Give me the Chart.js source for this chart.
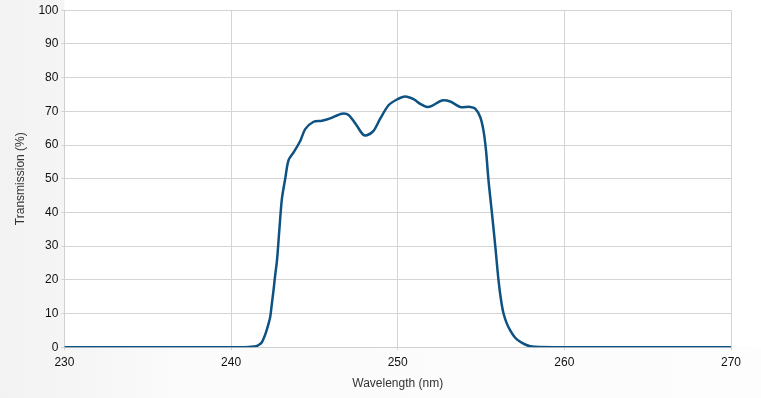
<!DOCTYPE html>
<html>
<head>
<meta charset="utf-8">
<script src="https://cdn.jsdelivr.net/npm/chart.js@4/dist/chart.umd.min.js"></script>
<style>
  html, body { margin: 0; padding: 0; background: #fff; }
  #wrap { width: 761px; height: 398px; }
</style>
</head>
<body>
<div id="wrap"><canvas id="specChart" width="761" height="398"></canvas></div>
<script>
// Transmission spectrum
const wavelengths = [230, 235, 240, 240.8, 241.2, 241.5, 241.7, 241.85, 241.95, 242.1, 242.25, 242.35, 242.45, 242.55, 242.65, 242.76, 242.9, 243.05, 243.25, 243.45, 243.75, 244.15, 244.45, 244.95, 245.45, 245.95, 246.65, 247.05, 247.55, 247.9, 248.15, 248.55, 248.95, 249.45, 249.95, 250.45, 250.95, 251.35, 251.75, 252.05, 252.65, 253.15, 253.75, 254.35, 254.65, 254.95, 255.15, 255.3, 255.45, 255.65, 255.85, 256.05, 256.2, 256.35, 256.55, 256.75, 257.05, 257.35, 257.65, 257.95, 258.5, 260, 265, 270];
const transmission = [0, 0, 0, 0.02, 0.1, 0.3, 0.8, 1.5, 2.5, 4.5, 7, 9, 13, 17, 21.5, 26, 35, 44, 50, 55.5, 57.8, 61.2, 64.7, 66.9, 67.2, 67.9, 69.3, 68.9, 65.7, 63.2, 62.9, 64.2, 67.8, 71.8, 73.5, 74.4, 73.6, 72.2, 71.3, 71.6, 73.2, 72.9, 71.3, 71.3, 70.8, 68.3, 64.2, 58.3, 49.4, 40, 30.2, 19.8, 14, 10, 7, 5, 2.8, 1.6, 0.8, 0.3, 0.05, 0, 0, 0];
const xTicks = [230, 240, 250, 260, 270];
const yTicks = [0, 10, 20, 30, 40, 50, 60, 70, 80, 90, 100];

// page background: grey fade outside plot, white inside
const bgPlugin = {
    id: 'bg',
    beforeDraw(chart) {
        const ctx = chart.ctx;
        const a = chart.chartArea;
        ctx.save();
        let g = ctx.createLinearGradient(0, 0, chart.width, 0);
        g.addColorStop(0, '#f2f2f2');
        g.addColorStop(0.25, '#fbfbfb');
        g.addColorStop(1, '#fdfdfd');
        ctx.fillStyle = g;
        ctx.fillRect(0, 0, chart.width, chart.height);
        ctx.fillStyle = '#ffffff';
        ctx.fillRect(a.left, 0, chart.width - a.left, a.bottom);
        ctx.restore();
    }
};

const points = wavelengths.map((w, i) => ({ x: w, y: transmission[i] }));

new Chart(document.getElementById('specChart').getContext('2d'), {
    type: 'line',
    data: {
        datasets: [{
            label: 'Transmission',
            data: points,
            borderColor: '#0d5283',
            borderWidth: 2.5,
            pointRadius: 0,
            fill: false,
            tension: 0.3
        }]
    },
    options: {
        responsive: false,
        animation: false,
        layout: { padding: { top: 2, right: 30, left: 13, bottom: 7 } },
        plugins: {
            legend: { display: false },
            tooltip: { enabled: false }
        },
        scales: {
            x: {
                type: 'linear',
                min: 230,
                max: 270,
                afterBuildTicks(axis) { axis.ticks = xTicks.map(v => ({ value: v })); },
                grid: { color: '#d4d4d4', tickLength: 3 },
                border: { color: '#d0d0d0' },
                ticks: { color: '#111', font: { family: 'Liberation Sans, Arial', size: 12 }, padding: 5 },
                title: {
                    display: true,
                    text: 'Wavelength (nm)',
                    color: '#333',
                    font: { family: 'Liberation Sans, Arial', size: 12 },
                    padding: { top: 2, bottom: 0 }
                }
            },
            y: {
                min: 0,
                max: 100,
                afterBuildTicks(axis) { axis.ticks = yTicks.map(v => ({ value: v })); },
                grid: { color: '#d4d4d4', tickLength: 3 },
                border: { color: '#d0d0d0' },
                ticks: { color: '#111', font: { family: 'Liberation Sans, Arial', size: 12 }, padding: 3 },
                title: {
                    display: true,
                    text: 'Transmission (%)',
                    color: '#333',
                    font: { family: 'Liberation Sans, Arial', size: 12 },
                    padding: { top: 0, bottom: 8 }
                }
            }
        }
    },
    plugins: [bgPlugin]
});
</script>
</body>
</html>
